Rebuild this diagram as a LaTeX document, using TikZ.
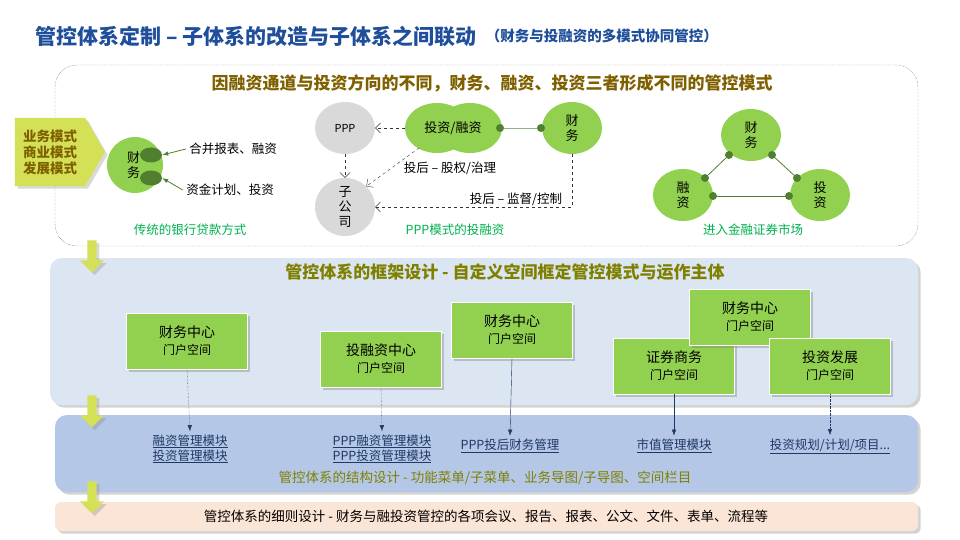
\documentclass[tikz,border=0pt]{standalone}
\usepackage{fontspec}
\setmainfont{Noto Sans CJK SC}
\usetikzlibrary{shapes.geometric,shapes.symbols,shapes.arrows,arrows.meta,positioning,shadows}
\definecolor{leaf}{HTML}{92D050}
\definecolor{darkleaf}{HTML}{4F7F2F}
\definecolor{brownt}{HTML}{7F6000}
\definecolor{olivet}{HTML}{808000}
\definecolor{capg}{HTML}{00B050}
\definecolor{ttlblue}{HTML}{1F4E9A}
\definecolor{linkb}{HTML}{1F3864}
\definecolor{pale}{HTML}{DCE6F2}
\definecolor{midblue}{HTML}{B4C7E7}
\definecolor{peach}{HTML}{FBE5D6}
\definecolor{ylw}{HTML}{D4E157}
\tikzset{
  blob/.style={ellipse, fill=leaf, minimum width=60pt, minimum height=52pt, inner sep=0pt, align=center, font=\fontsize{13}{15}\selectfont},
  greyblob/.style={blob, fill=black!15},
  dot/.style={circle, fill=darkleaf, inner sep=0pt, minimum size=8pt},
  flow/.style={dashed, -{Straight Barb[length=5pt]}, black!80},
  panel/.style={rounded corners=12pt, drop shadow={opacity=0.35}},
  centre/.style={draw=white, thick, fill=leaf, minimum width=121pt, minimum height=56pt, align=center, drop shadow={opacity=0.4}, font=\fontsize{14}{17}\selectfont},
  link/.style={text=linkb, align=center, font=\fontsize{12.5}{15}\selectfont},
  down/.style={-{Latex[length=6pt]}, linkb, densely dotted},
  caption/.style={text=capg, font=\fontsize{12.5}{15}\selectfont},
  fall/.style={single arrow, single arrow head extend=5pt, single arrow head indent=0pt, shape border rotate=270, fill=ylw, minimum width=24pt, minimum height=32pt, inner sep=3pt, drop shadow={opacity=0.3}}
}
\begin{document}
\begin{tikzpicture}[x=1pt, y=-1pt]
  \useasboundingbox (0,0) rectangle (960,540);
  % title
  \node[anchor=west, text=ttlblue, font=\fontsize{21}{24}\selectfont\bfseries] (title) at (32,36) {管控体系定制 – 子体系的改造与子体系之间联动};
  \node[right=2pt of title, text=ttlblue, font=\fontsize{14.5}{17}\selectfont\bfseries] (subt) {（财务与投融资的多模式协同管控）};
  % top panel
  \draw[densely dotted, black!70, rounded corners=22pt] (55,65) rectangle (918,246);
  \node[text=brownt, font=\fontsize{17}{20}\selectfont\bfseries] (head) at (492,83) {因融资通道与投资方向的不同，财务、融资、投资三者形成不同的管控模式};
  \node[signal, signal to=east, signal pointer angle=120, fill=ylw, minimum width=90pt, minimum height=68pt, text=brownt, align=center, inner sep=0pt, font=\fontsize{13.5}{16}\selectfont\bfseries, drop shadow={opacity=0.3}] (mode) at (50,152) {业务模式\\商业模式\\发展模式};
  % traditional
  \node[blob, minimum width=56pt, minimum height=56pt, text width=16pt, align=left] (bank) at (135,165) {财\\务};
  \node[ellipse, fill=darkleaf, minimum width=22pt, minimum height=15pt] (e1) at (151,155) {};
  \node[ellipse, fill=darkleaf, minimum width=22pt, minimum height=15pt] (e2) at (151,178) {};
  \node[font=\fontsize{12.5}{15}\selectfont] (t1) at (233,149) {合并报表、融资};
  \node[font=\fontsize{12.5}{15}\selectfont] (t2) at (230,190) {资金计划、投资};
  \draw[darkleaf, thick, -{Latex[length=6pt]}] (t1.west) -- (e1.east);
  \draw[darkleaf, thick, -{Latex[length=6pt]}] (t2.west) -- (e2.east);
  \node[caption] (c1) at (190,230) {传统的银行贷款方式};
  % PPP
  \node[greyblob, font=\fontsize{11}{13}\selectfont] (ppp) at (345,128) {PPP};
  \node[greyblob, minimum height=56pt] (sub) at (345,207) {子\\公\\司};
  \node[blob, minimum width=64pt, minimum height=50pt] (inv) at (437,128) {};
  \node[blob, minimum width=64pt, minimum height=50pt] (inv2) at (470,128) {};
  \node[font=\fontsize{13}{15}\selectfont] (invt) at (453,128) {投资/融资};
  \node[blob] (fin) at (572,128) {财\\务};
  \node[dot] (d1) at (500,128) {};
  \node[dot] (d2) at (541,128) {};
  \draw[darkleaf!60, thick] (d1) -- (d2);
  \draw[flow] (inv.west) -- (ppp.east);
  \draw[flow] (ppp.south) -- (sub.north);
  \draw[flow] (inv.south west) ++(5,2) -- (sub.north east);
  \draw[flow] (fin.south) |- (sub.east);
  \node[font=\fontsize{12.5}{15}\selectfont] (l1) at (450,168) {投后 – 股权/治理};
  \node[font=\fontsize{12.5}{15}\selectfont] (l2) at (516,199) {投后 – 监督/控制};
  \node[caption] (c2) at (455,230) {PPP模式的投融资};
  % market triangle
  \node[blob] (mf) at (751,135) {财\\务};
  \node[blob] (mr) at (683,195) {融\\资};
  \node[blob] (mi) at (820,195) {投\\资};
  \node[dot] (p1) at (729,155) {};
  \node[dot] (p2) at (772,155) {};
  \node[dot] (p3) at (705,178) {};
  \node[dot] (p4) at (797,178) {};
  \node[dot] (p5) at (713,196) {};
  \node[dot] (p6) at (789,196) {};
  \draw[darkleaf, thick] (p1) -- (p3);
  \draw[darkleaf, thick] (p2) -- (p4);
  \draw[darkleaf, thick] (p5) -- (p6);
  \node[caption] (c3) at (753,230) {进入金融证券市场};
  % framework panel
  \fill[pale, panel] (50,258) rectangle (918,405);
  \node[text=olivet, font=\fontsize{17}{20}\selectfont\bfseries] (head2) at (505,272) {管控体系的框架设计 - 自定义空间框定管控模式与运作主体};
  \node[centre] (b1) at (187,341) {财务中心\\{\fontsize{12}{14}\selectfont 门户空间}};
  \node[centre] (b2) at (381,359) {投融资中心\\{\fontsize{12}{14}\selectfont 门户空间}};
  \node[centre] (b3) at (512,330) {财务中心\\{\fontsize{12}{14}\selectfont 门户空间}};
  \node[centre] (b4) at (674,366) {证券商务\\{\fontsize{12}{14}\selectfont 门户空间}};
  \node[centre] (b5) at (750,317) {财务中心\\{\fontsize{12}{14}\selectfont 门户空间}};
  \node[centre] (b6) at (830,366) {投资发展\\{\fontsize{12}{14}\selectfont 门户空间}};
  % structure panel
  \fill[midblue, panel] (55,415) rectangle (918,492);
  \node[link] (m1) at (190,449) {\underline{融资管理模块}\\\underline{投资管理模块}};
  \node[link] (m2) at (382,449) {\underline{PPP融资管理模块}\\\underline{PPP投资管理模块}};
  \node[link] (m3) at (510,446) {\underline{PPP投后财务管理}};
  \node[link] (m4) at (674,446) {\underline{市值管理模块}};
  \node[link] (m5) at (830,446) {\underline{投资规划/计划/项目...}};
  \draw[down] (b1.south) -- (m1.north);
  \draw[down] (b2.south) -- (m2.north);
  \draw[down, solid] (b3.south) -- (m3.north);
  \draw[down, solid] (b4.south) -- (m4.north);
  \draw[down] (b6.south) -- (m5.north);
  \node[text=olivet, font=\fontsize{13.5}{16}\selectfont] (head3) at (485,478) {管控体系的结构设计 - 功能菜单/子菜单、业务导图/子导图、空间栏目};
  % detail panel
  \fill[peach, rounded corners=6pt, drop shadow={opacity=0.35}] (55,502) rectangle (918,531);
  \node[font=\fontsize{13.5}{16}\selectfont] (head4) at (486,516) {管控体系的细则设计 - 财务与融投资管控的各项会议、报告、报表、公文、文件、表单、流程等};
  % falling arrows
  \node[fall] (a1) at (92,254) {};
  \node[fall] (a2) at (92,409) {};
  \node[fall] (a3) at (92,495) {};
\end{tikzpicture}
\end{document}
